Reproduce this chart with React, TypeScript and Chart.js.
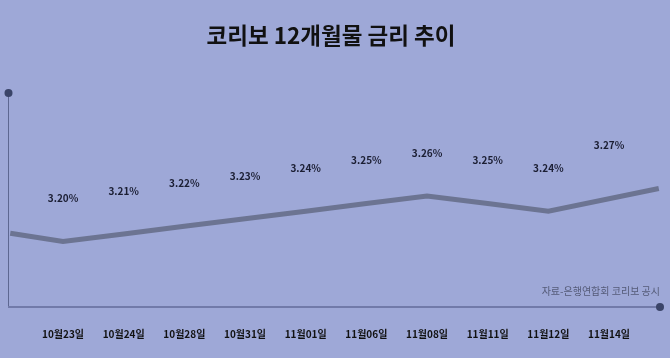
import React, { useEffect, useRef } from "react";
import { Chart, registerables } from "chart.js";

Chart.register(...registerables);

const TITLE = "코리보 12개월물 금리 추이";
const SOURCE = "자료-은행연합회 코리보 공시";

const categories = [
  "10월23일",
  "10월24일",
  "10월28일",
  "10월31일",
  "11월01일",
  "11월06일",
  "11월08일",
  "11월11일",
  "11월12일",
  "11월14일",
];
const rates = [3.2, 3.21, 3.22, 3.23, 3.24, 3.25, 3.26, 3.25, 3.24, 3.27];

// trend line as drawn in the graphic (category index position, value)
const lineIndex = [-0.87, 0, 1, 2, 3, 4, 5, 6, 7, 8, 9.82];
const lineValues = [3.211, 3.2, 3.21, 3.22, 3.23, 3.24, 3.25, 3.26, 3.25, 3.24, 3.27];

const FONT = "'Noto Sans CJK KR', 'Noto Sans', sans-serif";
const BG = "#9ea8d7";

const decor = {
  id: "decor",
  beforeDatasetsDraw(chart: any) {
    const { ctx, chartArea } = chart;
    const { left, right, top, bottom } = chartArea;
    ctx.save();
    // title
    ctx.fillStyle = "#111111";
    ctx.font = `bold 22.5px ${FONT}`;
    ctx.textAlign = "center";
    ctx.textBaseline = "middle";
    ctx.fillText(TITLE, 331, 35);
    // axes
    ctx.strokeStyle = "#5d6791";
    ctx.lineWidth = 1;
    ctx.beginPath();
    ctx.moveTo(left + 0.5, top);
    ctx.lineTo(left + 0.5, bottom);
    ctx.stroke();
    ctx.strokeStyle = "#717aa9";
    ctx.lineWidth = 2;
    ctx.beginPath();
    ctx.moveTo(left, bottom);
    ctx.lineTo(right, bottom);
    ctx.stroke();
    ctx.fillStyle = "#3a4468";
    ctx.beginPath();
    ctx.arc(left + 0.5, top, 4, 0, Math.PI * 2);
    ctx.fill();
    ctx.beginPath();
    ctx.arc(right, bottom, 4, 0, Math.PI * 2);
    ctx.fill();
    // source
    ctx.fillStyle = "#555b78";
    ctx.font = `10px ${FONT}`;
    ctx.textAlign = "right";
    ctx.fillText(SOURCE, right, bottom - 16);
    ctx.restore();
  },
  afterDatasetsDraw(chart: any) {
    const { ctx } = chart;
    const meta = chart.getDatasetMeta(1);
    ctx.save();
    ctx.fillStyle = "#1b1e33";
    ctx.font = `bold 10px ${FONT}`;
    ctx.textAlign = "center";
    ctx.textBaseline = "middle";
    meta.data.forEach((pt: any, i: number) => {
      ctx.fillText(`${rates[i].toFixed(2)}%`, pt.x, pt.y - 43);
    });
    ctx.restore();
  },
};

export default function App() {
  const ref = useRef<HTMLCanvasElement | null>(null);

  useEffect(() => {
    if (!ref.current) return;
    const chart = new Chart(ref.current, {
      type: "line",
      data: {
        datasets: [
          {
            label: "line",
            data: lineIndex.map((x, i) => ({ x, y: lineValues[i] })),
            borderColor: "#6c7492",
            borderWidth: 5,
            pointRadius: 0,
            fill: false,
            tension: 0,
          },
          {
            label: "labels",
            data: rates.map((v, i) => ({ x: i, y: v })),
            showLine: false,
            pointRadius: 0,
            borderColor: "transparent",
          },
        ],
      },
      options: {
        animation: false,
        responsive: false,
        layout: { padding: { top: 93, left: 8, right: 10, bottom: 19 } },
        plugins: {
          legend: { display: false },
          tooltip: { enabled: false },
        },
        scales: {
          x: {
            type: "linear",
            min: -0.907,
            max: 9.84,
            grid: { display: false },
            border: { display: false },
            afterBuildTicks: (axis: any) => {
              axis.ticks = categories.map((_, i) => ({ value: i }));
            },
            afterFit: (axis: any) => {
              axis.height = 32;
            },
            ticks: {
              autoSkip: false,
              maxRotation: 0,
              padding: 13,
              color: "#111111",
              font: { family: FONT, size: 10, weight: "bold" },
              callback: (v: any) => categories[v] ?? "",
            },
          },
          y: {
            type: "linear",
            display: false,
            min: 3.1136,
            max: 3.3959,
          },
        },
      },
      plugins: [decor],
    });
    return () => chart.destroy();
  }, []);

  return (
    <div
      style={{
        position: "fixed",
        left: 0,
        top: 0,
        width: 670,
        height: 358,
        background: BG,
      }}
    >
      <canvas ref={ref} width={670} height={358} style={{ display: "block" }} />
    </div>
  );
}
